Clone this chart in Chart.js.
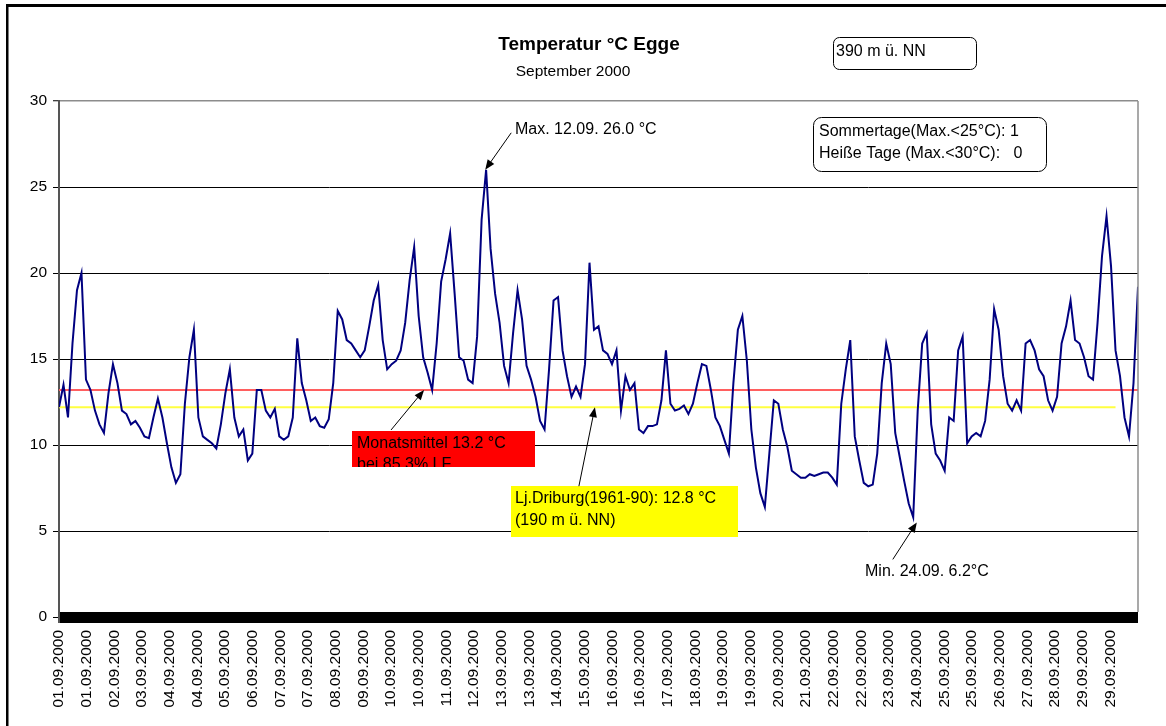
<!DOCTYPE html>
<html>
<head>
<meta charset="utf-8">
<title>Temperatur °C Egge</title>
<script src="https://cdn.jsdelivr.net/npm/chart.js@4.4.0/dist/chart.umd.min.js"></script>
<style>
    html, body { margin: 0; padding: 0; background: #fff; }
    canvas { display: block; }
</style>
</head>
<body>
<canvas id="grafico" width="1166" height="726"></canvas>
<script>
// Beschriftungen der x-Achse (wie im Original, gleichmaessig verteilt)
var dateLabels = ["01.09.2000", "01.09.2000", "02.09.2000", "03.09.2000", "04.09.2000", "04.09.2000",
    "05.09.2000", "06.09.2000", "07.09.2000", "07.09.2000", "08.09.2000", "09.09.2000", "10.09.2000",
    "10.09.2000", "11.09.2000", "12.09.2000", "13.09.2000", "13.09.2000", "14.09.2000", "15.09.2000",
    "16.09.2000", "16.09.2000", "17.09.2000", "18.09.2000", "19.09.2000", "19.09.2000", "20.09.2000",
    "21.09.2000", "22.09.2000", "22.09.2000", "23.09.2000", "24.09.2000", "25.09.2000", "25.09.2000",
    "26.09.2000", "27.09.2000", "28.09.2000", "29.09.2000", "29.09.2000"];

// Temperatur (°C)
var temps = [
    12.2, 13.5, 11.6, 15.9, 19.0, 20.0, 13.8, 13.2, 12.0, 11.2,
    10.7, 13.0, 14.7, 13.6, 12.0, 11.8, 11.2, 11.4, 11.0, 10.5,
    10.4, 11.6, 12.7, 11.6, 10.1, 8.7, 7.8, 8.3, 12.4, 15.1,
    16.7, 11.6, 10.5, 10.3, 10.1, 9.8, 11.2, 13.0, 14.4, 11.6,
    10.5, 10.9, 9.1, 9.5, 13.2, 13.2, 12.0, 11.6, 12.1, 10.5,
    10.3, 10.5, 11.6, 16.2, 13.6, 12.6, 11.4, 11.6, 11.1, 11.0,
    11.5, 13.6, 17.8, 17.3, 16.1, 15.9, 15.5, 15.1, 15.5, 16.9,
    18.4, 19.3, 16.1, 14.4, 14.7, 14.9, 15.5, 17.1, 19.6, 21.5,
    17.5, 15.1, 14.2, 13.2, 15.9, 19.5, 20.8, 22.3, 18.8, 15.1,
    14.9, 13.8, 13.6, 16.3, 23.1, 26.0, 21.4, 18.8, 17.1, 14.6,
    13.6, 16.5, 19.0, 17.3, 14.6, 13.8, 12.8, 11.4, 10.9, 14.4,
    18.4, 18.6, 15.5, 14.0, 12.8, 13.4, 12.8, 14.7, 20.6, 16.7,
    16.9, 15.5, 15.3, 14.7, 15.5, 12.0, 14.0, 13.2, 13.6, 10.9,
    10.7, 11.1, 11.1, 11.2, 12.6, 15.5, 12.4, 12.0, 12.1, 12.3,
    11.8, 12.4, 13.6, 14.7, 14.6, 13.2, 11.6, 11.1, 10.3, 9.5,
    13.6, 16.7, 17.5, 14.9, 10.9, 8.7, 7.2, 6.4, 9.5, 12.6,
    12.4, 10.9, 9.9, 8.5, 8.3, 8.1, 8.1, 8.3, 8.2, 8.3,
    8.4, 8.4, 8.1, 7.7, 12.4, 14.4, 16.1, 10.5, 9.1, 7.8,
    7.6, 7.7, 9.5, 13.6, 15.9, 14.7, 10.7, 9.3, 7.9, 6.6,
    5.8, 12.0, 15.9, 16.5, 11.2, 9.5, 9.1, 8.5, 11.6, 11.4,
    15.5, 16.3, 10.1, 10.5, 10.7, 10.5, 11.4, 13.8, 17.9, 16.7,
    14.0, 12.4, 12.0, 12.6, 12.0, 15.9, 16.1, 15.5, 14.4, 14.0,
    12.6, 12.0, 12.8, 15.9, 16.9, 18.4, 16.1, 15.9, 15.1, 14.0,
    13.8, 17.1, 21.0, 23.3, 20.4, 15.5, 14.0, 11.6, 10.5, 13.6,
    19.2];

var monthMean = 13.2;     // Monatsmittel (rote Linie)
var refMean = 12.2;       // Lj.Driburg-Linie, wie gezeichnet
var refLineEnd = 235;     // gelbe Linie endet kurz vor dem Rand

var labelStep = (temps.length - 1) / dateLabels.length;
var fontFam = "'Liberation Sans', Arial, sans-serif";

Chart.defaults.font.family = fontFam;
Chart.defaults.color = '#000';

function roundBox(ctx, x, y, w, h, r) {
    ctx.beginPath();
    ctx.moveTo(x + r, y);
    ctx.arcTo(x + w, y, x + w, y + h, r);
    ctx.arcTo(x + w, y + h, x, y + h, r);
    ctx.arcTo(x, y + h, x, y, r);
    ctx.arcTo(x, y, x + w, y, r);
    ctx.closePath();
    ctx.stroke();
}

function arrow(ctx, x1, y1, x2, y2) {
    var ang = Math.atan2(y2 - y1, x2 - x1);
    var len = 10, half = 4;
    ctx.beginPath();
    ctx.moveTo(x1, y1);
    ctx.lineTo(x2 - Math.cos(ang) * len * 0.8, y2 - Math.sin(ang) * len * 0.8);
    ctx.stroke();
    ctx.beginPath();
    ctx.moveTo(x2, y2);
    ctx.lineTo(x2 - Math.cos(ang) * len - Math.sin(ang) * half, y2 - Math.sin(ang) * len + Math.cos(ang) * half);
    ctx.lineTo(x2 - Math.cos(ang) * len + Math.sin(ang) * half, y2 - Math.sin(ang) * len - Math.cos(ang) * half);
    ctx.closePath();
    ctx.fill();
}

var decor = {
    id: 'decor',
    beforeDraw: function (chart) {
        var ctx = chart.ctx;
        ctx.save();
        ctx.fillStyle = '#fff';
        ctx.fillRect(0, 0, chart.width, chart.height);
        ctx.restore();
    },
    afterDraw: function (chart) {
        var ctx = chart.ctx;
        var a = chart.chartArea;
        var xs = chart.scales.x, ys = chart.scales.y;
        ctx.save();

        // Rahmen
        ctx.fillStyle = '#000';
        ctx.fillRect(6, 4, chart.width - 6, 3);
        ctx.fillRect(6, 4, 2.5, chart.height - 4);

        // rechter Rand der Zeichenflaeche
        ctx.strokeStyle = '#8c8c8c';
        ctx.lineWidth = 1.5;
        ctx.beginPath();
        ctx.moveTo(a.right, a.top);
        ctx.lineTo(a.right, ys.getPixelForValue(0) - 5);
        ctx.stroke();

        // Titel
        ctx.fillStyle = '#000';
        ctx.textAlign = 'center';
        ctx.textBaseline = 'alphabetic';
        ctx.font = 'bold 19px ' + fontFam;
        ctx.fillText('Temperatur °C Egge', 589, 50);
        ctx.font = '15.5px ' + fontFam;
        ctx.fillText('September 2000', 573, 76);

        ctx.textAlign = 'left';
        ctx.font = '16px ' + fontFam;
        ctx.strokeStyle = '#000';
        ctx.lineWidth = 1;

        // Hoehe
        roundBox(ctx, 833.5, 37.5, 143, 32, 6);
        ctx.fillText('390 m ü. NN', 836, 56);

        // Sommertage
        roundBox(ctx, 813.5, 117.5, 233, 54, 8);
        ctx.fillText('Sommertage(Max.<25°C): 1', 819, 136);
        ctx.fillText('Heiße Tage (Max.<30°C):   0', 819, 158);

        // Maximum
        ctx.fillText('Max. 12.09. 26.0 °C', 515, 134);
        var tx = xs.getPixelForValue(94.8), ty = ys.getPixelForValue(26.0);
        arrow(ctx, tx + 26, ty - 37, tx, ty);

        // Minimum
        ctx.fillText('Min. 24.09. 6.2°C', 865, 576);
        tx = xs.getPixelForValue(190.8); ty = ys.getPixelForValue(5.5);
        arrow(ctx, tx - 24, ty + 37, tx, ty);

        // Monatsmittel
        ctx.fillStyle = '#ff0000';
        ctx.fillRect(352, 431, 183, 36);
        ctx.save();
        ctx.beginPath();
        ctx.rect(352, 431, 183, 36);
        ctx.clip();
        ctx.fillStyle = '#000';
        ctx.fillText('Monatsmittel 13.2 °C', 357, 447.5);
        ctx.fillText('bei 85.3% LF', 357, 469);
        ctx.restore();
        ctx.fillStyle = '#000';
        tx = xs.getPixelForValue(81.2); ty = ys.getPixelForValue(monthMean);
        arrow(ctx, tx - 33, ty + 40, tx, ty);

        // Lj.Driburg
        ctx.fillStyle = '#ffff00';
        ctx.fillRect(511, 486, 227, 51);
        ctx.fillStyle = '#000';
        ctx.fillText('Lj.Driburg(1961-90): 12.8 °C', 515, 503);
        ctx.fillText('(190 m ü. NN)', 515, 524.5);
        tx = xs.getPixelForValue(119.2); ty = ys.getPixelForValue(refMean);
        arrow(ctx, tx - 16, ty + 79, tx, ty);

        ctx.restore();
    }
};

var ctx = document.getElementById('grafico').getContext('2d');
var chart = new Chart(ctx, {
    type: 'line',
    data: {
        datasets: [
            {
                label: 'Temperatur',
                data: temps.map(function (v, i) { return { x: i, y: v }; }),
                borderColor: '#000080',
                borderWidth: 2,
                pointRadius: 0,
                tension: 0,
                fill: false,
                order: 0
            },
            {
                label: 'Monatsmittel',
                data: [{ x: 0, y: monthMean }, { x: temps.length - 1, y: monthMean }],
                borderColor: '#ff5f5f',
                borderWidth: 2,
                pointRadius: 0,
                fill: false,
                order: 1
            },
            {
                label: 'Lj.Driburg',
                data: [{ x: 0, y: refMean }, { x: refLineEnd, y: refMean }],
                borderColor: '#ffff40',
                borderWidth: 2,
                pointRadius: 0,
                fill: false,
                order: 2
            }
        ]
    },
    options: {
        responsive: false,
        animation: false,
        devicePixelRatio: 1,
        layout: { padding: { top: 101, right: 28, left: 0, bottom: 0 } },
        plugins: {
            legend: { display: false },
            tooltip: { enabled: false },
            title: { display: false }
        },
        scales: {
            x: {
                type: 'linear',
                min: 0,
                max: temps.length - 1,
                grid: { display: false, drawTicks: false },
                border: { display: false },
                ticks: {
                    autoSkip: false,
                    minRotation: 90,
                    maxRotation: 90,
                    padding: 13,
                    font: { size: 15.5 },
                    callback: function (value, index) { return dateLabels[index]; }
                },
                afterBuildTicks: function (scale) {
                    scale.ticks = dateLabels.map(function (l, k) { return { value: k * labelStep }; });
                },
                afterFit: function (scale) { scale.height = 109; }
            },
            y: {
                min: 0,
                max: 30,
                ticks: { stepSize: 5, padding: 6, font: { size: 15.5 } },
                grid: {
                    color: function (c) { return c.tick.value === 30 ? '#8c8c8c' : '#000'; },
                    lineWidth: function (c) {
                        if (c.tick.value === 0) return 11;
                        if (c.tick.value === 30) return 1.5;
                        return 1;
                    },
                    tickColor: '#000',
                    tickWidth: 1,
                    tickLength: 6
                },
                border: { color: '#555', width: 2 },
                afterFit: function (scale) { scale.width = 59; }
            }
        }
    },
    plugins: [decor]
});
</script>
</body>
</html>
